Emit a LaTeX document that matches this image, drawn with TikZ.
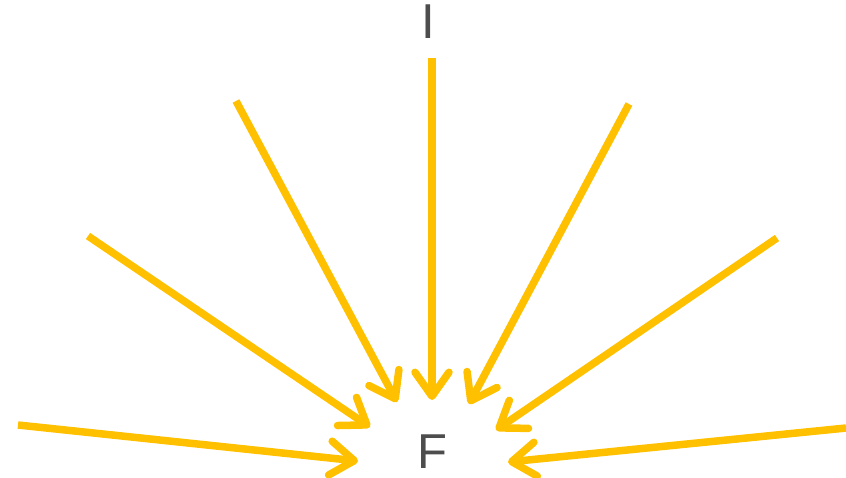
\documentclass[tikz,border=0pt]{standalone}
\usepackage{fontspec}
\setmainfont{Liberation Sans}
\usetikzlibrary{arrows.meta}
\definecolor{arrowyellow}{HTML}{FFC000}
\definecolor{textgray}{HTML}{4D4D4D}
\begin{document}
\begin{tikzpicture}[x=1pt,y=-1pt,
  lbl/.style={text=textgray,font=\fontsize{49}{49}\selectfont,inner sep=0pt},
  ray/.style={draw=arrowyellow,line width=7.5pt,-{Straight Barb[length=24pt,width=34pt,round]}}]
\path[use as bounding box] (0,0) rectangle (846,477);
\node[lbl] (I) at (428,22) {I};
\node[lbl] (F) at (432,452) {F};
\coordinate (s1) at (18,425);   \coordinate (t1) at (358,461);
\coordinate (s2) at (88,236);   \coordinate (t2) at (370,427);
\coordinate (s3) at (236,101);  \coordinate (t3) at (397,402);
\coordinate (s4) at (432,58);   \coordinate (t4) at (432,400);
\coordinate (s5) at (629,104);  \coordinate (t5) at (469,404);
\coordinate (s6) at (777,238);  \coordinate (t6) at (496,430);
\coordinate (s7) at (846,428);  \coordinate (t7) at (508,462);
\foreach \i in {1,...,7} \draw[ray] (s\i) -- (t\i);
\end{tikzpicture}
\end{document}
